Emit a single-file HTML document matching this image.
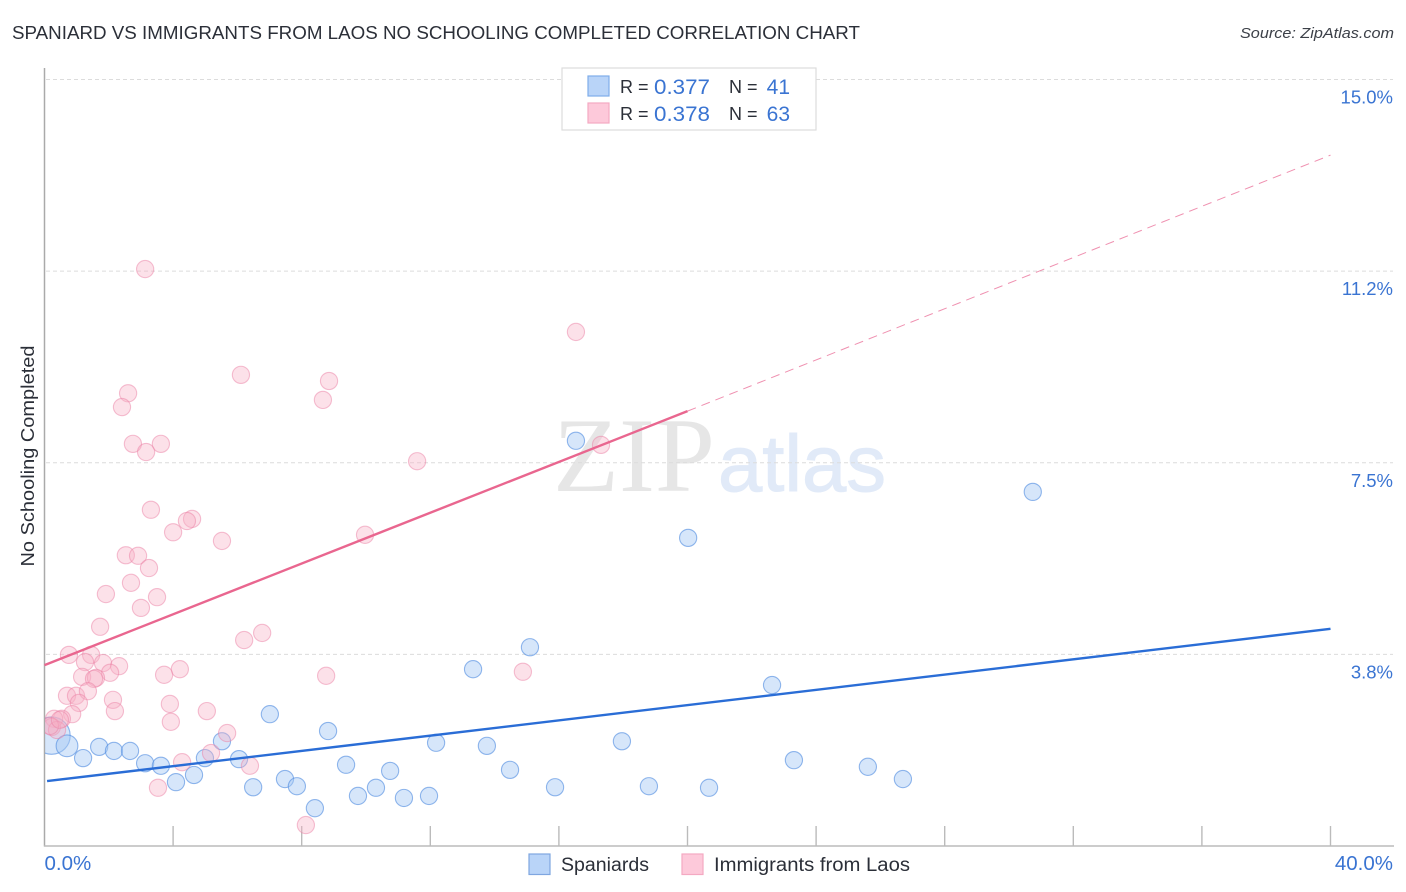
<!DOCTYPE html>
<html lang="en">
<head>
<meta charset="utf-8">
<title>Spaniard vs Immigrants from Laos No Schooling Completed Correlation Chart</title>
<style>
html,body{margin:0;padding:0;background:#fff;width:1406px;height:892px;overflow:hidden}
svg{display:block}
text{font-family:"Liberation Sans",sans-serif}
</style>
</head>
<body>
<svg id="chart" xmlns="http://www.w3.org/2000/svg" width="1406" height="892" viewBox="0 0 1406 892">
  <defs>
    <clipPath id="plot-clip"><rect x="45" y="60" width="1350" height="786"/></clipPath>
  </defs>
  <text x="12" y="39" font-size="18.5" fill="#2b2f38" textLength="848" lengthAdjust="spacingAndGlyphs">SPANIARD VS IMMIGRANTS FROM LAOS NO SCHOOLING COMPLETED CORRELATION CHART</text>
  <text x="1394" y="38" font-size="15" font-style="italic" fill="#3c4048" text-anchor="end" textLength="154" lengthAdjust="spacingAndGlyphs">Source: ZipAtlas.com</text>

  <g>
    <text x="553" y="491" font-size="106" style="font-family:'Liberation Serif',serif" fill="#e6e6e6" textLength="162" lengthAdjust="spacingAndGlyphs">ZIP</text>
    <text x="718" y="491" font-size="80" fill="#e1eaf8" stroke="#e1eaf8" stroke-width="1" textLength="168" lengthAdjust="spacingAndGlyphs">atlas</text>
  </g>

  <g id="grid"></g>
  <g id="xticks"></g>
  <line x1="44.5" y1="68" x2="44.5" y2="846.5" stroke="#aaaaaa" stroke-width="1.5"/>
  <line x1="44" y1="846" x2="1394" y2="846" stroke="#bbbbbb" stroke-width="1.5"/>
  <g id="ylabels"></g>
  <g id="xlabels"></g>
  <text transform="translate(34,456) rotate(-90)" font-size="18.5" fill="#2b2f38" text-anchor="middle" textLength="221" lengthAdjust="spacingAndGlyphs">No Schooling Completed</text>

  <g id="points" clip-path="url(#plot-clip)"></g>
  <g id="trends"></g>

  <g>
    <rect x="562" y="68" width="254" height="62" fill="#fff" stroke="#dddddd" stroke-width="1.2"/>
    <rect x="588" y="76" width="21" height="20" fill="#b9d4f8" stroke="#7fadea" stroke-width="1.2"/>
    <rect x="588" y="103" width="21" height="20" fill="#fdc9da" stroke="#f4a9c2" stroke-width="1.2"/>
    <text x="620" y="93" font-size="18" fill="#2b2f38">R =</text>
    <text x="654" y="94" font-size="21" fill="#3a74d2" textLength="56" lengthAdjust="spacingAndGlyphs">0.377</text>
    <text x="729" y="93" font-size="18" fill="#2b2f38">N =</text>
    <text x="790" y="94" font-size="21" fill="#3a74d2" text-anchor="end">41</text>
    <text x="620" y="120" font-size="18" fill="#2b2f38">R =</text>
    <text x="654" y="121" font-size="21" fill="#3a74d2" textLength="56" lengthAdjust="spacingAndGlyphs">0.378</text>
    <text x="729" y="120" font-size="18" fill="#2b2f38">N =</text>
    <text x="790" y="121" font-size="21" fill="#3a74d2" text-anchor="end">63</text>
  </g>

  <g>
    <g>
      <rect x="529" y="854" width="21" height="20.500" fill="#b9d4f8" stroke="#7fa6e0" stroke-width="1.2"/>
      <text x="561" y="871" font-size="19" fill="#2b2f38" textLength="88" lengthAdjust="spacingAndGlyphs">Spaniards</text>
    </g>
    <g>
      <rect x="682" y="854" width="21" height="20.500" fill="#fdc9da" stroke="#f4a9c2" stroke-width="1.2"/>
      <text x="714" y="871" font-size="19" fill="#2b2f38" textLength="196" lengthAdjust="spacingAndGlyphs">Immigrants from Laos</text>
    </g>
  </g>
</svg>
<script>
var xTickValues = [4, 8, 12, 16, 20, 24, 28, 32, 36, 40];
var yGridValues = [15, 11.25, 7.5, 3.75];
var yTickLabels = ["15.0%", "11.2%", "7.5%", "3.8%"];
var xEndValues = [0, 40];
var xEndLabels = ["0.0%", "40.0%"];

var spaniardX = [0.22,0.70,1.20,1.70,2.16,2.66,3.13,3.62,4.09,4.65,4.99,5.52,6.05,6.49,7.01,7.48,7.85,8.41,8.82,9.38,9.75,10.31,10.75,11.18,11.96,12.18,13.33,13.76,14.48,15.10,15.88,16.53,17.96,18.80,20.02,20.67,22.63,23.31,25.61,26.70,30.74];
var spaniardY = [2.16,1.96,1.72,1.94,1.86,1.86,1.62,1.57,1.25,1.39,1.72,2.05,1.70,1.15,2.58,1.31,1.17,0.74,2.25,1.59,0.98,1.14,1.47,0.94,0.98,2.02,3.46,1.96,1.49,3.89,1.15,7.93,2.05,1.17,6.03,1.14,3.15,1.68,1.55,1.31,6.93];
var spaniardWeight = [4.7,1.6,1,1,1,1,1,1,1,1,1,1,1,1,1,1,1,1,1,1,1,1,1,1,1,1,1,1,1,1,1,1,1,1,1,1,1,1,1,1,1];

var laosX = [3.13,16.53,6.11,8.85,2.60,8.66,2.41,2.75,3.62,3.16,17.31,11.59,3.31,4.59,4.43,4.00,9.97,5.52,2.53,2.91,3.25,2.69,1.91,3.50,3.00,1.73,6.77,6.21,0.76,1.45,1.26,1.82,2.32,4.21,2.04,3.72,14.88,8.76,1.17,1.60,1.54,0.70,0.98,1.35,1.07,2.13,3.90,2.19,5.05,0.86,0.54,0.30,3.93,5.68,0.23,0.39,0.17,5.18,4.28,6.39,3.53,8.13,0.48];
var laosY = [11.29,10.06,9.22,9.10,8.86,8.73,8.59,7.87,7.87,7.71,7.85,7.53,6.58,6.40,6.36,6.14,6.09,5.97,5.69,5.68,5.44,5.15,4.93,4.87,4.66,4.29,4.17,4.03,3.74,3.74,3.60,3.58,3.52,3.46,3.39,3.35,3.41,3.33,3.31,3.29,3.27,2.94,2.94,3.03,2.80,2.86,2.78,2.64,2.64,2.58,2.49,2.49,2.43,2.21,2.33,2.27,2.35,1.82,1.64,1.57,1.14,0.41,2.47];

var spaniardTrendX = [0.08, 40];
var spaniardTrendY = [1.27, 4.25];
var laosTrendX = [0, 20];
var laosTrendY = [3.54, 8.51];
var laosDashX = [20, 40];
var laosDashY = [8.51, 13.52];

var NS = "http://www.w3.org/2000/svg";
function xScale(v) { return 44.5 + v * 32.15; }
function yScale(v) { return 846 - v * 51.1; }
function rScale(w) { return 8.6 * Math.sqrt(w); }
function make(tag, attrs, parent) {
  var el = document.createElementNS(NS, tag);
  for (var k in attrs) { el.setAttribute(k, attrs[k]); }
  parent.appendChild(el);
  return el;
}

var gridG = document.getElementById("grid");
yGridValues.forEach(function (v) {
  var ln = make("line", {x1: 46, x2: 1393, y1: yScale(v), y2: yScale(v), stroke: "#dcdcdc", "stroke-width": 1, "stroke-dasharray": "4 3"}, gridG);
  
  
});

var tickG = document.getElementById("xticks");
xTickValues.forEach(function (v) {
  var t = make("line", {x1: xScale(v), x2: xScale(v), y1: 826, y2: 846, stroke: "#bbbbbb", "stroke-width": 1.4}, tickG);
  
  
});

var yLabG = document.getElementById("ylabels");
yGridValues.forEach(function (v, i) {
  var t = make("text", {x: 1393, y: yScale(v) + 24, "font-size": 18.5, fill: "#3a74d2", "text-anchor": "end"}, yLabG);
  
  
  t.textContent = yTickLabels[i];
});

var xLabG = document.getElementById("xlabels");
xEndValues.forEach(function (v, i) {
  var t = make("text", {x: i === 0 ? xScale(v) : 1393, y: 870, "font-size": 20.5, fill: "#3a74d2", "text-anchor": i === 0 ? "start" : "end"}, xLabG);
  
  
  t.textContent = xEndLabels[i];
});

var ptG = document.getElementById("points");
spaniardX.forEach(function (v, i) {
  var c = make("circle", {cx: xScale(v), cy: yScale(spaniardY[i]), r: rScale(spaniardWeight[i]), fill: "rgba(165,200,245,0.45)", stroke: "rgba(80,140,225,0.62)", "stroke-width": 1.1}, ptG);
  
  
});
laosX.forEach(function (v, i) {
  var c = make("circle", {cx: xScale(v), cy: yScale(laosY[i]), r: 8.6, fill: "rgba(248,175,198,0.38)", stroke: "rgba(235,130,165,0.5)", "stroke-width": 1.1}, ptG);
  
  
});

var trG = document.getElementById("trends");
var dashLine = make("line", {x1: xScale(laosDashX[0]), y1: yScale(laosDashY[0]), x2: xScale(laosDashX[1]), y2: yScale(laosDashY[1]), stroke: "#ea6c96", "stroke-width": 1, "stroke-dasharray": "9 6", opacity: 0.75}, trG);


var laosLine = make("line", {x1: xScale(laosTrendX[0]), y1: yScale(laosTrendY[0]), x2: xScale(laosTrendX[1]), y2: yScale(laosTrendY[1]), stroke: "#e9668f", "stroke-width": 2.4}, trG);


var spanLine = make("line", {x1: xScale(spaniardTrendX[0]), y1: yScale(spaniardTrendY[0]), x2: xScale(spaniardTrendX[1]), y2: yScale(spaniardTrendY[1]), stroke: "#2a6dd6", "stroke-width": 2.4}, trG);


</script>
</body>
</html>
